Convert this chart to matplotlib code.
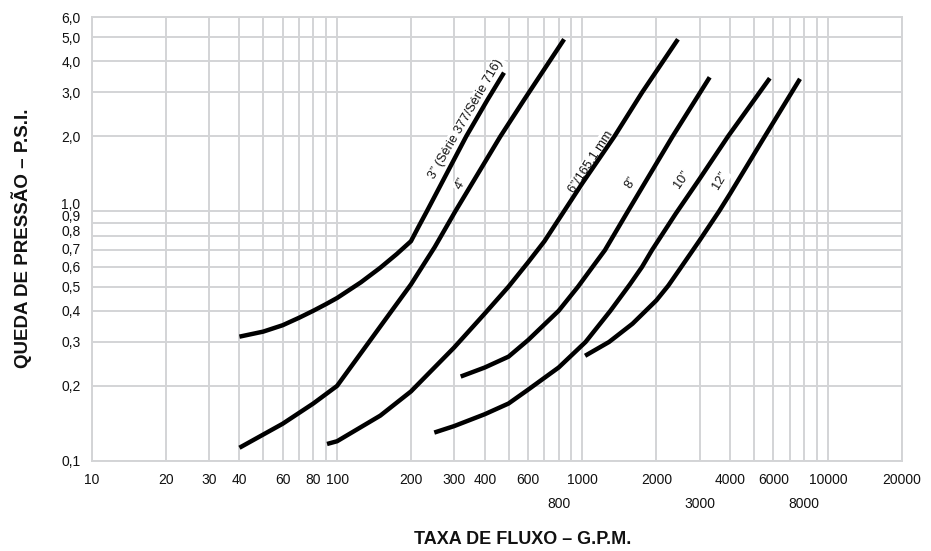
import matplotlib
matplotlib.use('Agg')
import matplotlib.pyplot as plt
from matplotlib import font_manager
from matplotlib.ticker import NullLocator
from matplotlib.transforms import ScaledTranslation


def narrow_available():
    try:
        path = font_manager.findfont(
            font_manager.FontProperties(family='Liberation Sans Narrow'),
            fallback_to_default=False)
        return 'Narrow' in path
    except Exception:
        return False


NARROW = narrow_available()
if NARROW:
    FAM = ['Liberation Sans Narrow', 'DejaVu Sans']
    FS = 1.1
else:
    FAM = ['Liberation Sans', 'DejaVu Sans']
    FS = 1.0
plt.rcParams['font.family'] = FAM

# ---------------- data ----------------
flow_3in = [40, 50, 60, 70, 80, 90, 100, 125, 150, 175, 200, 215, 232, 336, 410, 479]
drop_3in = [0.315, 0.33, 0.35, 0.375, 0.40, 0.425, 0.45, 0.52, 0.595, 0.675, 0.76, 0.87, 1.0, 2.0, 2.8, 3.6]

flow_4in = [40, 60, 80, 100, 135, 167, 200, 250, 303, 463, 578, 842]
drop_4in = [0.113, 0.141, 0.17, 0.2, 0.3, 0.4, 0.51, 0.72, 1.0, 2.0, 2.8, 4.9]

flow_6in = [91, 100, 150, 200, 300, 400, 500, 600, 700, 840, 1000, 1350, 1750, 2450]
drop_6in = [0.117, 0.12, 0.152, 0.19, 0.285, 0.39, 0.5, 0.625, 0.76, 1.0, 1.3, 2.0, 3.0, 4.9]

flow_8in = [319, 400, 500, 600, 800, 960, 1100, 1235, 1530, 2330, 3300]
drop_8in = [0.218, 0.237, 0.262, 0.305, 0.4, 0.5, 0.6, 0.7, 1.0, 2.0, 3.45]

flow_10in = [249, 300, 400, 500, 600, 800, 1030, 1300, 1560, 1750, 1920, 2400, 3000, 3920, 5800]
drop_10in = [0.13, 0.138, 0.154, 0.17, 0.193, 0.237, 0.3, 0.4, 0.51, 0.6, 0.7, 0.98, 1.35, 2.0, 3.42]

flow_12in = [1025, 1284, 1600, 2000, 2240, 2500, 3000, 3600, 4000, 5450, 7700]
drop_12in = [0.264, 0.30, 0.355, 0.44, 0.505, 0.59, 0.765, 1.0, 1.18, 1.95, 3.4]

curve_labels = ['3\u201d (Série 377/Série 716)', '4\u201d', '6\u201d/165,1 mm',
                '8\u201d', '10\u201d', '12\u201d']
label_flow = [336, 320, 1080, 1570, 2540, 3640]
label_drop = [2.35, 1.29, 1.58, 1.30, 1.34, 1.33]
label_rot = [60, 59, 57, 58, 55, 59]

x_tick_row1 = [10, 20, 30, 40, 60, 80, 100, 200, 300, 400, 600, 1000, 2000,
               4000, 6000, 10000, 20000]
x_tick_row2 = [800, 3000, 8000]
x_grid_only = [50, 70, 90, 500, 700, 900, 5000, 7000, 9000]
y_ticks = [0.1, 0.2, 0.3, 0.4, 0.5, 0.6, 0.7, 0.8, 0.9, 1.0, 2.0, 3.0, 4.0, 5.0, 6.0]

x_title = 'TAXA DE FLUXO \u2013 G.P.M.'
y_title = 'QUEDA DE PRESSÃO \u2013 P.S.I.'

# ---------------- figure ----------------
GRID = '#d3d4d6'
fig = plt.figure(figsize=(9.31, 5.51), dpi=100)
ax = fig.add_axes([91.7 / 931, 90 / 551, 810 / 931, 443.7 / 551])
ax.set_xscale('log')
ax.set_yscale('log')
ax.set_xlim(10, 20000)
ax.set_ylim(0.1, 6.0)

ax.set_xticks(x_tick_row1, labels=[str(v) for v in x_tick_row1])
minor_vals = x_tick_row2 + x_grid_only
minor_labels = [str(v) for v in x_tick_row2] + [''] * len(x_grid_only)
ax.set_xticks(minor_vals, labels=minor_labels, minor=True)
ax.set_yticks(y_ticks, labels=[f'{v:.1f}'.replace('.', ',') for v in y_ticks])
ax.yaxis.set_minor_locator(NullLocator())

ax.tick_params(axis='both', which='both', length=0, labelsize=10 * FS,
               colors='#111111')
ax.tick_params(axis='x', which='major', pad=9)
ax.tick_params(axis='x', which='minor', pad=26)
ax.tick_params(axis='y', which='major', pad=8)

# the crowded labels 0,7 ... 1,0 sit slightly above their lines, as in the source
label_lift_px = {1.0: 8, 0.9: 7, 0.8: 5, 0.7: 2}
for tick, v in zip(ax.yaxis.get_major_ticks(), y_ticks):
    if v in label_lift_px:
        tick.label1.set_transform(
            tick.label1.get_transform()
            + ScaledTranslation(0, label_lift_px[v] / fig.dpi, fig.dpi_scale_trans))

ax.set_axisbelow(True)
ax.grid(True, which='both', color=GRID, linewidth=1.4)
for sp in ax.spines.values():
    sp.set_color(GRID)
    sp.set_linewidth(1.4)

series = [(flow_3in, drop_3in), (flow_4in, drop_4in), (flow_6in, drop_6in),
          (flow_8in, drop_8in), (flow_10in, drop_10in), (flow_12in, drop_12in)]
for fx, dy in series:
    ax.plot(fx, dy, color='black', linewidth=3.2, solid_capstyle='butt',
            solid_joinstyle='round', zorder=4)

for s, lx, ly, r in zip(curve_labels, label_flow, label_drop, label_rot):
    ax.text(lx, ly, s, rotation=r, rotation_mode='anchor', ha='center',
            va='center', fontsize=9.2 * FS, color='#111111', zorder=3,
            bbox=dict(facecolor='white', edgecolor='none', pad=1.2))

fig.text(523 / 931, 1 - 539.7 / 551, x_title, ha='center', va='center',
         fontsize=13 * FS, fontweight='bold', color='#111111')
fig.text(21.7 / 931, 1 - 238 / 551, y_title, ha='center', va='center',
         rotation=90, fontsize=13.5 * FS, fontweight='bold', color='#111111')

fig.savefig('out.png', dpi=100)
